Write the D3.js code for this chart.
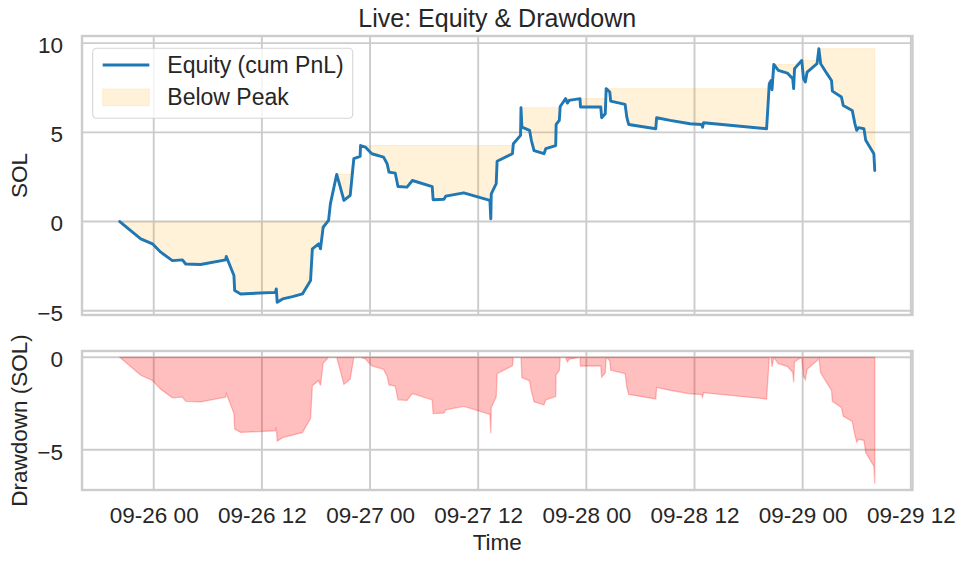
<!DOCTYPE html>
<html>
<head>
<meta charset="utf-8">
<script src="https://cdn.jsdelivr.net/npm/d3@7"></script>
<style>
  body { margin: 0; background: #fff; }
  text { font-family: "Liberation Sans", Arial, sans-serif; fill: #262626; }
</style>
</head>
<body>
<script>
// Données : heures depuis le 2025-09-26 00:00 et PnL cumulé (SOL)
const hours = [
    -3.77, -1.44, -0.14, 0.78, 2.07, 3.18, 3.55, 5.2, 7.98, 8.05,
    8.9, 8.98, 9.65, 13.5, 13.6, 13.7, 14.3, 15.4, 16.5, 17.4,
    17.6, 18.3, 18.5, 18.8, 19.4, 19.6, 20.3, 20.7, 21.1, 21.8,
    22.2, 22.9, 22.95, 23.5, 24.2, 25.5, 25.9, 26.1, 26.8, 27.1,
    28.1, 28.7, 30.9, 31.0, 32.2, 32.4, 34.4, 37.3, 37.4, 37.45,
    38.0, 38.1, 39.8, 39.9, 40.7, 40.75, 40.85, 41.7, 41.9, 42.2,
    43.3, 43.5, 44.6, 44.65, 45.0, 45.1, 45.7, 45.9, 46.1, 47.3,
    47.35, 49.6, 49.7, 50.1, 50.2, 50.6, 50.7, 52.3, 52.5, 52.7,
    55.7, 55.8, 57.3, 59.5, 60.8, 60.9, 61.0, 68.0, 68.3, 68.5,
    68.6, 68.8, 69.3, 70.3, 70.9, 71.0, 71.1, 71.9, 72.1, 72.3,
    72.5, 73.6, 73.8, 74.0, 74.7, 75.2, 75.3, 76.3, 76.5, 77.5,
    77.8, 78.0, 78.2, 78.8, 79.0, 79.9, 80.0
]
const equity = [
    0.00, -0.97, -1.25, -1.72, -2.19, -2.15, -2.38, -2.41, -2.15, -1.96,
    -3.03, -3.87, -4.06, -3.97, -3.78, -4.53, -4.34, -4.21, -4.06, -3.31,
    -1.53, -1.25, -1.53, -0.32, 0.06, 0.99, 2.64, 1.93, 1.18, 1.46,
    3.52, 3.65, 4.26, 4.17, 3.80, 3.61, 3.24, 2.77, 2.71, 1.96,
    1.93, 2.30, 1.96, 1.22, 1.25, 1.42, 1.61, 1.18, 0.15, 1.55,
    2.12, 3.38, 3.80, 4.36, 4.83, 6.38, 5.29, 5.11, 4.55, 3.98,
    3.80, 4.08, 4.26, 5.44, 5.67, 6.45, 6.89, 6.64, 6.79, 6.89,
    6.42, 6.42, 5.82, 6.04, 7.45, 7.26, 6.75, 6.57, 5.82, 5.44,
    5.20, 5.82, 5.67, 5.48, 5.44, 5.29, 5.54, 5.20, 7.73, 7.91,
    7.39, 8.81, 8.47, 8.32, 8.00, 7.45, 8.57, 9.03, 8.00, 7.82,
    8.38, 8.85, 9.69, 8.85, 8.29, 7.91, 7.31, 6.98, 6.51, 6.23,
    5.48, 5.11, 5.26, 5.20, 4.55, 3.80, 2.86
]
const xTickLabels = ['09-26 00', '09-26 12', '09-27 00', '09-27 12', '09-28 00', '09-28 12', '09-29 00', '09-29 12']
const equityTicks = [-5, 0, 5, 10]
const drawdownTicks = [-5, 0]
const seriesNames = ['Equity (cum PnL)', 'Below Peak']

// Prépare les points : date, équité, pic courant et drawdown
const t0 = new Date(2025, 8, 26, 0, 0)
const data = hours.map((h, i) => ({ date: new Date(+t0 + h * 3600e3), eq: equity[i] }))
let runPeak = -Infinity
data.forEach(d => {
    runPeak = Math.max(runPeak, d.eq)
    d.peak = runPeak
    d.dd = d.eq - runPeak
})
const parseTick = d3.timeParse('%Y-%m-%d %H')
const xTicks = xTickLabels.map(s => parseTick('2025-' + s))

// Marges de 5% comme matplotlib
const pad = ([a, b]) => { const m = (b - a) * 0.05; return [a - m, b + m] }

const W = 965, H = 566
const left = 82, right = 912.5
const top1 = 36, bot1 = 315, top2 = 351, bot2 = 490
const grey = '#cccccc'
const blue = '#1f77b4'

const svg = d3.select('body').append('svg')
    .attr('width', W)
    .attr('height', H)

const x = d3.scaleTime()
    .domain(pad(d3.extent(data, d => +d.date)).map(v => new Date(v)))
    .range([left, right])
const y1 = d3.scaleLinear()
    .domain(pad([d3.min(data, d => d.eq), d3.max(data, d => d.peak)]))
    .range([bot1, top1])
const y2 = d3.scaleLinear()
    .domain(pad([d3.min(data, d => d.dd), 0]))
    .range([bot2, top2])

// clips
const defs = svg.append('defs')
defs.append('clipPath').attr('id', 'clip1').append('rect')
    .attr('x', left).attr('y', top1).attr('width', right - left).attr('height', bot1 - top1)
defs.append('clipPath').attr('id', 'clip2').append('rect')
    .attr('x', left).attr('y', top2).attr('width', right - left).attr('height', bot2 - top2)

// Grille
function drawGrid(y, yTicks, top, bot) {
    const g = svg.append('g')
    g.selectAll('.vx').data(xTicks).join('line')
        .attr('x1', d => x(d)).attr('x2', d => x(d))
        .attr('y1', top).attr('y2', bot)
        .attr('stroke', grey).attr('stroke-width', 1.9)
    g.selectAll('.hy').data(yTicks).join('line')
        .attr('x1', left).attr('x2', right)
        .attr('y1', d => y(d)).attr('y2', d => y(d))
        .attr('stroke', grey).attr('stroke-width', 1.9)
}
drawGrid(y1, equityTicks, top1, bot1)
drawGrid(y2, drawdownTicks, top2, bot2)

// Zone sous le pic
svg.append('path')
    .datum(data)
    .attr('clip-path', 'url(#clip1)')
    .attr('d', d3.area().x(d => x(d.date)).y0(d => y1(d.peak)).y1(d => y1(d.eq)))
    .attr('fill', 'orange')
    .attr('fill-opacity', 0.15)
    .attr('stroke', 'orange')
    .attr('stroke-opacity', 0.15)
    .attr('stroke-width', 1)

// Courbe d'équité
svg.append('path')
    .datum(data)
    .attr('clip-path', 'url(#clip1)')
    .attr('d', d3.line().x(d => x(d.date)).y(d => y1(d.eq)))
    .attr('fill', 'none')
    .attr('stroke', blue)
    .attr('stroke-width', 2.9)
    .attr('stroke-linejoin', 'round')
    .attr('stroke-linecap', 'round')

// Drawdown
svg.append('path')
    .datum(data)
    .attr('clip-path', 'url(#clip2)')
    .attr('d', d3.area().x(d => x(d.date)).y0(y2(0)).y1(d => y2(d.dd)))
    .attr('fill', 'red')
    .attr('fill-opacity', 0.25)
    .attr('stroke', 'red')
    .attr('stroke-opacity', 0.25)
    .attr('stroke-width', 1.3)

// Cadres
;[[top1, bot1], [top2, bot2]].forEach(([t, b]) => {
    svg.append('rect')
        .attr('x', left).attr('y', t)
        .attr('width', right - left).attr('height', b - t)
        .attr('fill', 'none')
        .attr('stroke', grey)
        .attr('stroke-width', 2.4)
})

// Axes (sans traits, seulement les labels)
const fmtY = d3.format('')
const yAxis1 = svg.append('g')
    .attr('transform', `translate(${left},0)`)
    .call(d3.axisLeft(y1).tickValues(equityTicks).tickSize(0).tickPadding(19).tickFormat(d => fmtY(d).replace('-', '\u2212')))
const yAxis2 = svg.append('g')
    .attr('transform', `translate(${left},0)`)
    .call(d3.axisLeft(y2).tickValues(drawdownTicks).tickSize(0).tickPadding(19).tickFormat(d => fmtY(d).replace('-', '\u2212')))
const xAxis = svg.append('g')
    .attr('transform', `translate(0,${bot2})`)
    .call(d3.axisBottom(x).tickValues(xTicks).tickSize(0).tickPadding(17).tickFormat((d, i) => xTickLabels[i]))

;[yAxis1, yAxis2, xAxis].forEach(g => {
    g.select('.domain').remove()
    g.selectAll('text')
        .attr('fill', '#262626')
        .style('font-size', '22.5px')
        .style('font-family', '"Liberation Sans", Arial, sans-serif')
})
yAxis1.selectAll('text').attr('dy', '0.42em')
yAxis2.selectAll('text').attr('dy', '0.42em')

// Titres
svg.append('text')
    .attr('x', (left + right) / 2)
    .attr('y', 26.5)
    .attr('text-anchor', 'middle')
    .style('font-size', '25px')
    .text('Live: Equity & Drawdown')

svg.append('text')
    .attr('x', (left + right) / 2)
    .attr('y', 550)
    .attr('text-anchor', 'middle')
    .style('font-size', '22.5px')
    .text('Time')

svg.append('text')
    .attr('transform', `translate(27,${(top1 + bot1) / 2}) rotate(-90)`)
    .attr('text-anchor', 'middle')
    .style('font-size', '22.5px')
    .text('SOL')

svg.append('text')
    .attr('transform', `translate(27,${(top2 + bot2) / 2}) rotate(-90)`)
    .attr('text-anchor', 'middle')
    .style('font-size', '22.5px')
    .text('Drawdown (SOL)')

// Légende
const legend = svg.append('g').attr('transform', 'translate(92.7,48.3)')
legend.append('rect')
    .attr('width', 260).attr('height', 70)
    .attr('rx', 4).attr('ry', 4)
    .attr('fill', 'white').attr('fill-opacity', 0.8)
    .attr('stroke', grey).attr('stroke-opacity', 0.8)
    .attr('stroke-width', 1.1)
legend.append('line')
    .attr('x1', 10).attr('x2', 56.6)
    .attr('y1', 16.7).attr('y2', 16.7)
    .attr('stroke', blue).attr('stroke-width', 2.9)
legend.append('rect')
    .attr('x', 10).attr('y', 40.7)
    .attr('width', 46.6).attr('height', 16.7)
    .attr('fill', 'orange').attr('fill-opacity', 0.15)
    .attr('stroke', 'orange').attr('stroke-opacity', 0.15)
legend.selectAll('.lbl').data(seriesNames).join('text')
    .attr('x', 74.6)
    .attr('y', (d, i) => 25 + i * 32)
    .style('font-size', '23px')
    .text(d => d)
</script>
</body>
</html>
